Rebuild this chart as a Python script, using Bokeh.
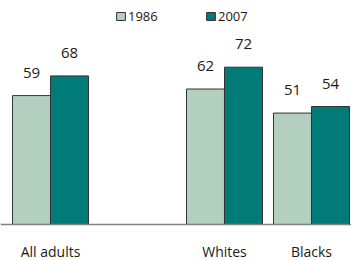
from bokeh.plotting import figure
from bokeh.models import ColumnDataSource, Range1d, Span, Legend, LegendItem
from bokeh.transform import dodge
from bokeh.core.properties import value
from bokeh.embed import file_html
from bokeh.resources import INLINE

categories = ["All adults", "Whites", "Blacks"]
positions = [0, 2, 3]
v1986 = [59, 62, 51]
v2007 = [68, 72, 54]
years = ["1986", "2007"]

c_light = "#b3cfbf"
c_dark = "#007b77"
edge = "#333333"
font = "Open Sans"

src = ColumnDataSource(dict(
    x=positions, cat=categories, v1986=v1986, v2007=v2007,
    t1986=[str(v) for v in v1986], t2007=[str(v) for v in v2007],
))

p = figure(width=351, height=260, x_range=Range1d(-0.5747, 3.4598),
           y_range=Range1d(-16.48, 102.52), output_backend="svg",
           toolbar_location=None, min_border=0,
           x_axis_type=None, y_axis_type=None)
p.grid.visible = False
p.outline_line_color = None

off = 0.2184
bw = 0.4368
r1 = p.vbar(x=dodge("x", -off), top="v1986", width=bw, source=src,
            fill_color=c_light, line_color=edge, line_width=1)
r2 = p.vbar(x=dodge("x", off), top="v2007", width=bw, source=src,
            fill_color=c_dark, line_color=edge, line_width=1)

p.add_layout(Span(location=0, dimension="width", line_color="#808080", line_width=1.5))

p.text(x=dodge("x", -off), y="v1986", text="t1986", source=src, y_offset=-23,
       text_align="center", text_baseline="alphabetic", text_color="#1a1a1a",
       text_font=value(font), text_font_size="15px")
p.text(x=dodge("x", off), y="v2007", text="t2007", source=src, y_offset=-23,
       text_align="center", text_baseline="alphabetic", text_color="#1a1a1a",
       text_font=value(font), text_font_size="15px")
p.text(x="x", y=0, text="cat", source=src, y_offset=27,
       text_align="center", text_baseline="middle", text_color="#1a1a1a",
       text_font=value(font), text_font_size="14px")

legend = Legend(items=[LegendItem(label=years[0], renderers=[r1]),
                       LegendItem(label=years[1], renderers=[r2])],
                orientation="horizontal", location=(115, 235),
                glyph_width=11, glyph_height=10, label_height=10, label_width=30,
                label_standoff=2, spacing=47, padding=0, margin=0,
                border_line_color=None, background_fill_alpha=0,
                label_text_font=font, label_text_font_size="13px",
                label_text_color="#1a1a1a")
p.add_layout(legend, "center")

open("out.html", "w").write(file_html(p, INLINE))
